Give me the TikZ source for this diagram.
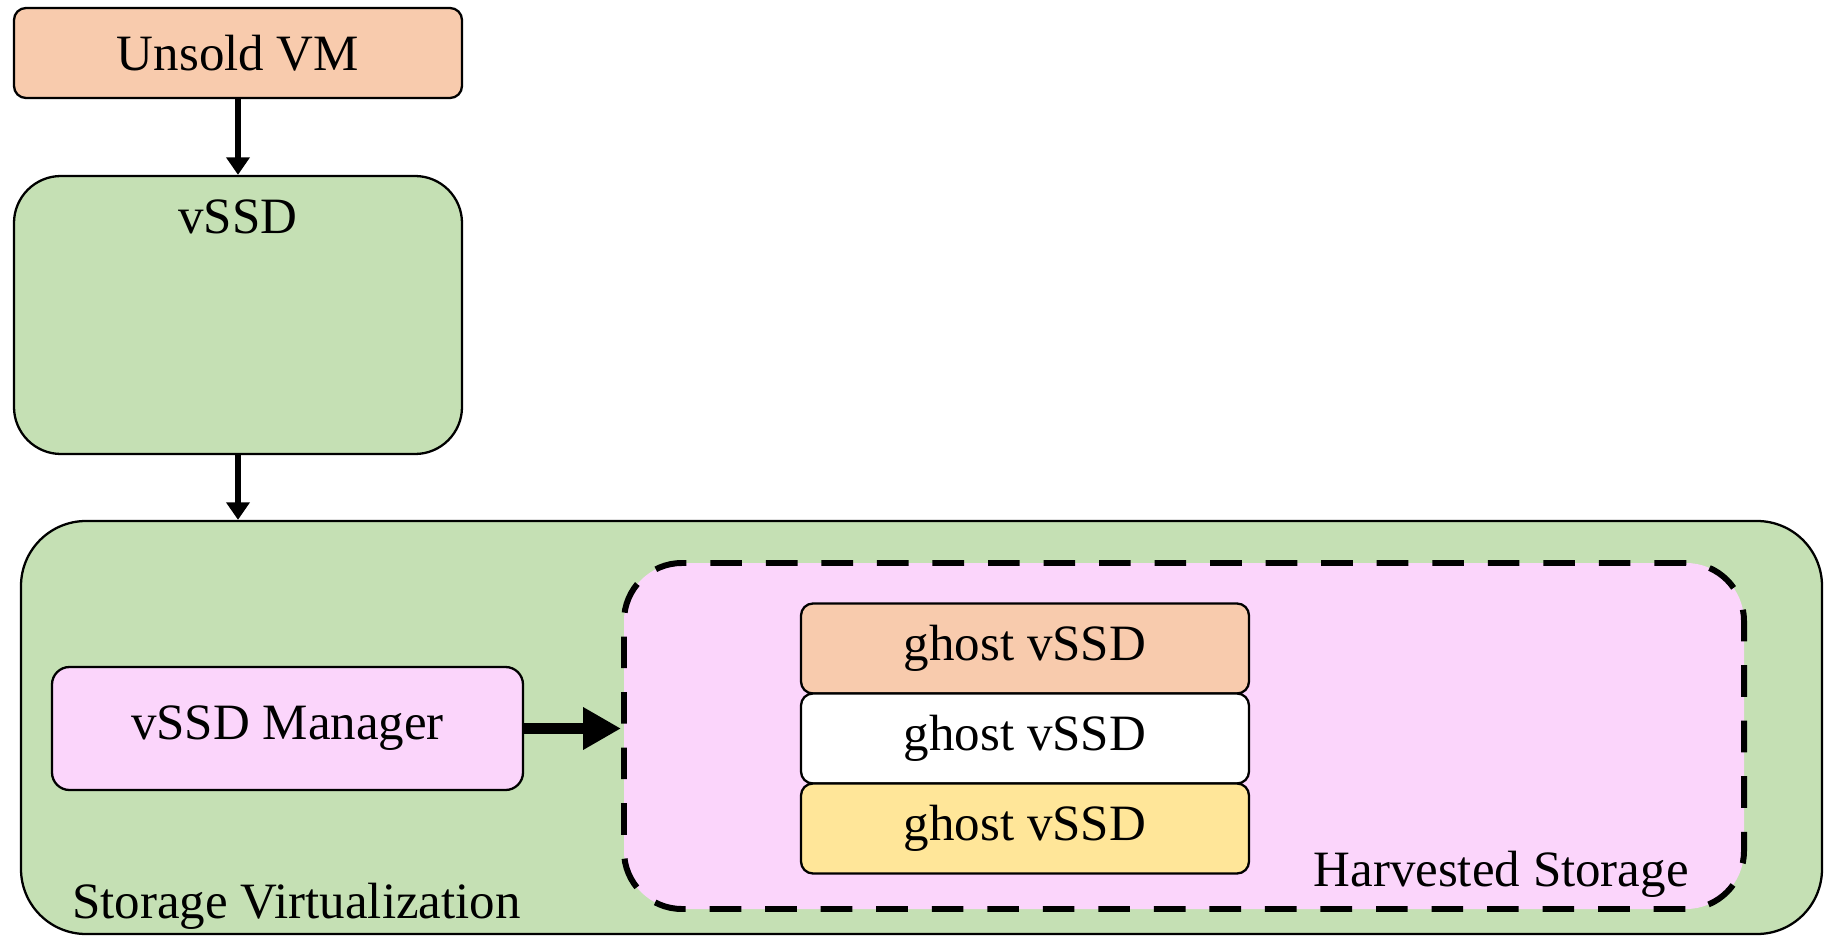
\documentclass[tikz,border=0pt]{standalone}
\usepackage{fontspec}
\setmainfont{Liberation Serif}
\usepackage{tikz}
\usetikzlibrary{positioning,arrows.meta}
\definecolor{peach}{HTML}{F8CBAD}
\definecolor{leaf}{HTML}{C5E0B4}
\definecolor{lilac}{HTML}{FBD5FB}
\definecolor{sand}{HTML}{FFE699}

\begin{document}
\begin{tikzpicture}[every node/.style={font=\fontsize{29}{34}\selectfont,inner sep=0pt},
                    box/.style={draw,line width=1.3pt,rounded corners=#1}, box/.default=0.24cm,
                    ghost/.style={minimum width=8.96cm,minimum height=1.8cm,outer sep=0pt},
                    >={Triangle[length=10pt,width=13pt]}]
  \useasboundingbox (0,0) rectangle (36.48,18.72);
  % outer layers
  \node[box=1.3cm,fill=leaf,minimum width=36.02cm,minimum height=8.26cm] (sv) at (18.43,4.17) {};
  \node[draw,fill=lilac,line width=3.4pt,dash pattern=on 18pt off 13.6pt,rounded corners=1.16cm,
        minimum width=22.4cm,minimum height=6.92cm] (hv) at (23.68,4.0) {};
  % top nodes
  \node[box,fill=peach,minimum width=8.96cm,minimum height=1.8cm] (vm) at (4.76,17.66) {Unsold VM};
  \node[box=0.94cm,fill=leaf,minimum width=8.96cm,minimum height=5.56cm,
        label={[anchor=base,yshift=-1.18cm]north:vSSD}] (vssd) at (4.76,12.42) {};
  % inner nodes
  \node[box=0.35cm,fill=lilac,minimum width=9.42cm,minimum height=2.46cm] (mgr) at (5.75,4.15) {vSSD Manager};
  \node[box,fill=peach,ghost] (g1) at (20.5,5.75) {ghost vSSD};
  \node[box,fill=white,ghost,below=0cm of g1] (g2) {ghost vSSD};
  \node[box,fill=sand,ghost,below=0cm of g2] (g3) {ghost vSSD};
  % captions
  \node[anchor=base west] (svcap) at (1.44,0.36) {Storage Virtualization};
  \node[anchor=base east] (hvcap) at (33.78,1.0) {Harvested Storage};
  % arrows
  \draw[->,line width=3.4pt] (vm) -- (vssd);
  \draw[->,line width=3.4pt] (vssd.south) -- (vssd.south |- sv.north);
  \draw[-{Triangle[length=21.5pt,width=22.7pt]},line width=6.8pt] (mgr.east) -- (mgr.east -| hv.west);
\end{tikzpicture}
\end{document}
